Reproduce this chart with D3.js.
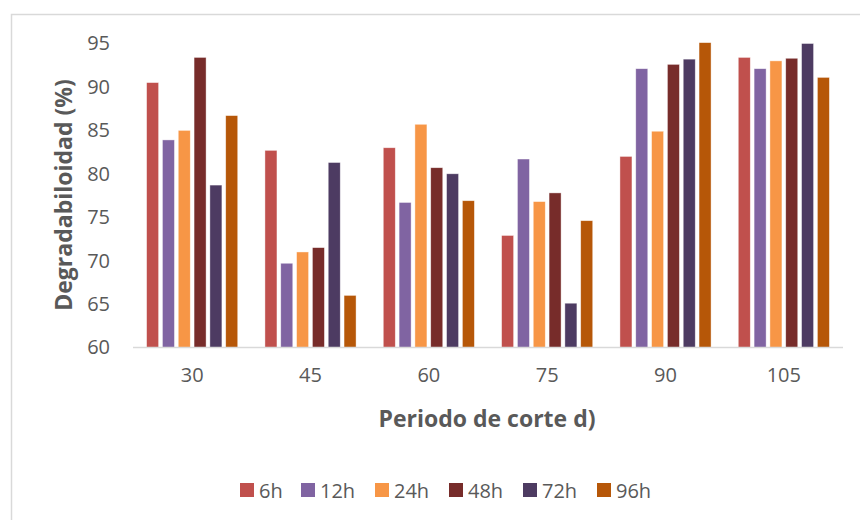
<!DOCTYPE html>
<html><head><meta charset="utf-8">
<script src="https://cdn.jsdelivr.net/npm/d3@7"></script>
<style>body{margin:0;background:#fff}svg{display:block}</style>
</head><body><svg id="c" width="860" height="520"></svg>
<script>
const categories = ["30","45","60","75","90","105"];
const seriesNames = ["6h","12h","24h","48h","72h","96h"];
const s6h  = [90.5, 82.7, 83.0, 72.9, 82.0, 93.4];
const s12h = [83.9, 69.7, 76.7, 81.7, 92.1, 92.1];
const s24h = [85.0, 71.0, 85.7, 76.8, 84.9, 93.0];
const s48h = [93.4, 71.5, 80.7, 77.8, 92.6, 93.3];
const s72h = [78.7, 81.3, 80.0, 65.1, 93.2, 95.0];
const s96h = [86.7, 66.0, 76.9, 74.6, 95.1, 91.1];
const yTicks = [60,65,70,75,80,85,90,95];
const colors = ["#C0504D","#8064A2","#F79646","#772C2A","#4D3B62","#B65708"];

const values = [s6h,s12h,s24h,s48h,s72h,s96h];
const svg = d3.select("#c");
const font = "'Open Sans', sans-serif";
const txt = "#595959";

svg.append("rect").attr("x",11.5).attr("y",14.5).attr("width",900).attr("height",600)
  .attr("fill","#fff").attr("stroke","#d9d9d9").attr("stroke-width",1.5);

const x0 = d3.scaleBand().domain(categories).range([133,843]).paddingInner(0).paddingOuter(0);
const innerPad = 13.6;
const x1 = d3.scaleBand().domain(seriesNames).range([innerPad, x0.bandwidth()-innerPad]).paddingInner(0.24).paddingOuter(0);
const y = d3.scaleLinear().domain([60,95]).range([347.5,43.5]);

const g = svg.append("g");
categories.forEach((c,ci)=>{
  seriesNames.forEach((s,si)=>{
    const v = values[si][ci];
    g.append("rect")
      .attr("x", x0(c)+x1(s))
      .attr("y", y(v))
      .attr("width", x1.bandwidth())
      .attr("height", y(60)-y(v))
      .attr("fill", colors[si])
      .attr("stroke","#fff").attr("stroke-opacity",0.6).attr("stroke-width",0.7);
  });
});

// baseline
svg.append("line").attr("x1",133).attr("x2",843).attr("y1",y(60)).attr("y2",y(60))
  .attr("stroke","#d9d9d9").attr("stroke-width",1.5);

// y axis
const ya = svg.append("g").attr("transform","translate(110,0)")
  .call(d3.axisLeft(y).tickValues(yTicks).tickSize(0).tickPadding(0).tickFormat(d3.format("d")));
ya.select(".domain").remove();
ya.selectAll("text").attr("font-family",font).attr("font-size",20).attr("fill",txt);

// x axis
const xa = svg.append("g").attr("transform",`translate(0,${y(60)})`)
  .call(d3.axisBottom(x0).tickSize(0).tickPadding(20));
xa.select(".domain").remove();
xa.selectAll("text").attr("font-family",font).attr("font-size",20).attr("fill",txt);

// titles
svg.append("text").attr("transform","translate(63,195) rotate(-90)")
  .attr("text-anchor","middle").attr("dominant-baseline","central")
  .attr("font-family",font).attr("font-weight","bold").attr("font-size",23).attr("fill",txt)
  .text("Degradabiloidad (%)");
svg.append("text").attr("x",487).attr("y",418)
  .attr("text-anchor","middle").attr("dominant-baseline","central")
  .attr("font-family",font).attr("font-weight","bold").attr("font-size",23).attr("fill",txt)
  .text("Periodo de corte d)");

// legend
const legX = [240,301,375,449,523,597];
const leg = svg.append("g");
seriesNames.forEach((s,i)=>{
  leg.append("rect").attr("x",legX[i]).attr("y",483).attr("width",14).attr("height",14).attr("fill",colors[i]);
  leg.append("text").attr("x",legX[i]+19).attr("y",490).attr("dominant-baseline","central")
    .attr("font-family",font).attr("font-size",20).attr("fill",txt).text(s);
});
</script></body></html>
